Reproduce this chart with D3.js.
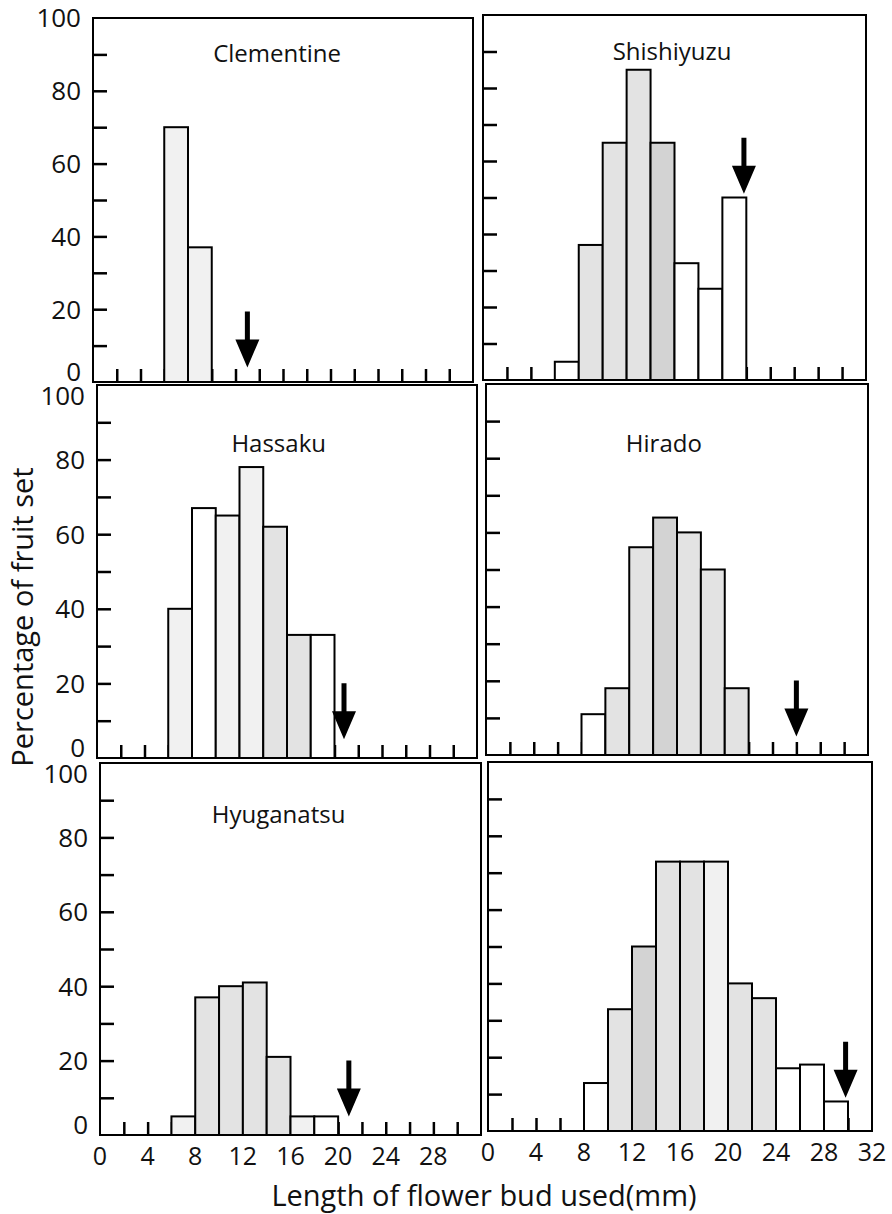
<!DOCTYPE html>
<html>
<head>
<meta charset="utf-8">
<script src="https://cdn.jsdelivr.net/npm/d3@7"></script>
<style>
  html, body { margin: 0; padding: 0; background: #fff; }
  svg { display: block; }
  text { font-family: "Open Sans", "Noto Sans", sans-serif; fill: #111; }
</style>
</head>
<body>
<svg id="chart" width="892" height="1214"></svg>
<script>
// ---------------- data ----------------
const panelNames = ["Clementine", "Shishiyuzu", "Hassaku", "Hirado", "Hyuganatsu", ""];

// bin start (mm) of each 2-mm class, percentage of fruit set, shading class
const clementineBins   = [6, 8];
const clementineValues = [70, 37];
const clementineShade  = [1, 1];

const shishiyuzuBins   = [6, 8, 10, 12, 14, 16, 18, 20];
const shishiyuzuValues = [5, 37, 65, 85, 65, 32, 25, 50];
const shishiyuzuShade  = [0, 2, 2, 2, 3, 0, 0, 0];

const hassakuBins   = [6, 8, 10, 12, 14, 16, 18];
const hassakuValues = [40, 67, 65, 78, 62, 33, 33];
const hassakuShade  = [1, 0, 1, 1, 2, 2, 0];

const hiradoBins   = [8, 10, 12, 14, 16, 18, 20];
const hiradoValues = [11, 18, 56, 64, 60, 50, 18];
const hiradoShade  = [0, 2, 2, 3, 2, 2, 2];

const hyuganatsuBins   = [6, 8, 10, 12, 14, 16, 18];
const hyuganatsuValues = [5, 37, 40, 41, 21, 5, 5];
const hyuganatsuShade  = [1, 2, 2, 2, 2, 1, 0];

const sixthBins   = [8, 10, 12, 14, 16, 18, 20, 22, 24, 26, 28];
const sixthValues = [13, 33, 50, 73, 73, 73, 40, 36, 17, 18, 8];
const sixthShade  = [0, 2, 3, 2, 2, 1, 2, 2, 0, 0, 0];

// arrows: bud length (mm) and value where the arrow tip sits
const arrowX   = [13, 21.8, 20.8, 26, 20.9, 29.8];
const arrowTip = [4, 51, 5, 5, 5, 9];

const binWidth = 2;
const yTickValues = [0, 20, 40, 60, 80, 100];
const yMinorTicks = [10, 20, 30, 40, 50, 60, 70, 80, 90];
const xInnerTicks = [2, 4, 6, 8, 10, 12, 14, 16, 18, 20, 22, 24, 26, 28, 30];
const xLabelsLeft  = [0, 4, 8, 12, 16, 20, 24, 28];
const xLabelsRight = [0, 4, 8, 12, 16, 20, 24, 28, 32];
const xTitle = "Length of flower bud used(mm)";
const yTitle = "Percentage of fruit set";

const allBins   = [clementineBins, shishiyuzuBins, hassakuBins, hiradoBins, hyuganatsuBins, sixthBins];
const allValues = [clementineValues, shishiyuzuValues, hassakuValues, hiradoValues, hyuganatsuValues, sixthValues];
const allShade  = [clementineShade, shishiyuzuShade, hassakuShade, hiradoShade, hyuganatsuShade, sixthShade];

// ---------------- layout ----------------
// frame [left, right, top, bottom] in px
const frames = [
  [93, 473, 18, 382],
  [483, 866, 15, 380],
  [97, 477, 385, 758],
  [486, 868, 384, 755],
  [100, 481, 763, 1135],
  [488, 872, 762, 1131]
];
const titleXmm = [15.5, 15.8, 15.3, 14.9, 15.0, 16];
const titleDy  = [44, 45, 67, 68, 60, 60];
const shadeColors = ["#ffffff", "#f1f1f1", "#e3e3e3", "#d3d3d3"];

const svg = d3.select("#chart");

frames.forEach((f, i) => {
  const x = d3.scaleLinear().domain([0, 32]).range([f[0], f[1]]);
  const y = d3.scaleLinear().domain([0, 100]).range([f[3], f[2]]);
  const g = svg.append("g");
  const isLeft = i % 2 === 0;
  const isBottom = i >= 4;
  const isTop = i < 2;

  // inner x ticks (drawn first; bars cover them)
  const xAxis = d3.axisTop(x).tickValues(xInnerTicks).tickSize(13).tickFormat("");
  const xg = g.append("g").attr("transform", `translate(0,${f[3]})`).call(xAxis);
  xg.select(".domain").remove();
  xg.selectAll(".tick line").attr("stroke", "#000").attr("stroke-width", 2.5);

  // inner y ticks
  const yAxis = d3.axisRight(y).tickValues(yMinorTicks).tickSize(14).tickFormat("");
  const yg = g.append("g").attr("transform", `translate(${f[0]},0)`).call(yAxis);
  yg.select(".domain").remove();
  yg.selectAll(".tick line").attr("stroke", "#000").attr("stroke-width", 2.5);

  // bars
  const bins = allBins[i], vals = allValues[i], shade = allShade[i];
  g.selectAll("rect.bar")
    .data(bins.map((b, k) => ({ b, v: vals[k], s: shade[k] })))
    .join("rect")
    .attr("class", "bar")
    .attr("x", d => x(d.b))
    .attr("width", d => x(d.b + binWidth) - x(d.b))
    .attr("y", d => y(d.v))
    .attr("height", d => y(0) - y(d.v))
    .attr("fill", d => shadeColors[d.s])
    .attr("stroke", "#000")
    .attr("stroke-width", 2);

  // frame
  g.append("rect")
    .attr("x", f[0]).attr("y", f[2])
    .attr("width", f[1] - f[0]).attr("height", f[3] - f[2])
    .attr("fill", "none").attr("stroke", "#000").attr("stroke-width", 2);

  // arrow
  const ax = x(arrowX[i]), ay = y(arrowTip[i]);
  const arrowPath = d3.path();
  arrowPath.moveTo(ax - 2.5, ay - 56);
  arrowPath.lineTo(ax + 2.5, ay - 56);
  arrowPath.lineTo(ax + 2.5, ay - 28);
  arrowPath.lineTo(ax + 12, ay - 28);
  arrowPath.lineTo(ax, ay);
  arrowPath.lineTo(ax - 12, ay - 28);
  arrowPath.lineTo(ax - 2.5, ay - 28);
  arrowPath.closePath();
  g.append("path").attr("d", arrowPath.toString()).attr("fill", "#000");

  // title
  if (panelNames[i]) {
    g.append("text")
      .attr("x", x(titleXmm[i]))
      .attr("y", f[2] + titleDy[i])
      .attr("text-anchor", "middle")
      .attr("font-size", 24)
      .text(panelNames[i]);
  }

  // y labels on left panels
  if (isLeft) {
    g.selectAll("text.ylab")
      .data(yTickValues)
      .join("text")
      .attr("class", "ylab")
      .attr("x", f[0] - 12)
      .attr("y", d => y(d))
      .attr("dy", d => {
        if (d === 0) return "-0.02em";
        if (d === 100 && !isTop) return "0.76em";
        return "0.36em";
      })
      .attr("text-anchor", "end")
      .attr("font-size", 26)
      .text(d => d);
  }

  // x labels on bottom panels
  if (isBottom) {
    const labs = isLeft ? xLabelsLeft : xLabelsRight;
    g.selectAll("text.xlab")
      .data(labs)
      .join("text")
      .attr("class", "xlab")
      .attr("x", d => x(d))
      .attr("y", f[3] + 30)
      .attr("text-anchor", "middle")
      .attr("font-size", 25)
      .text(d => d);
  }
});

// axis titles
svg.append("text")
  .attr("x", 484).attr("y", 1206)
  .attr("text-anchor", "middle")
  .attr("font-size", 29)
  .text(xTitle);

svg.append("text")
  .attr("transform", "translate(33,617) rotate(-90)")
  .attr("text-anchor", "middle")
  .attr("font-size", 29)
  .text(yTitle);
</script>
</body>
</html>
